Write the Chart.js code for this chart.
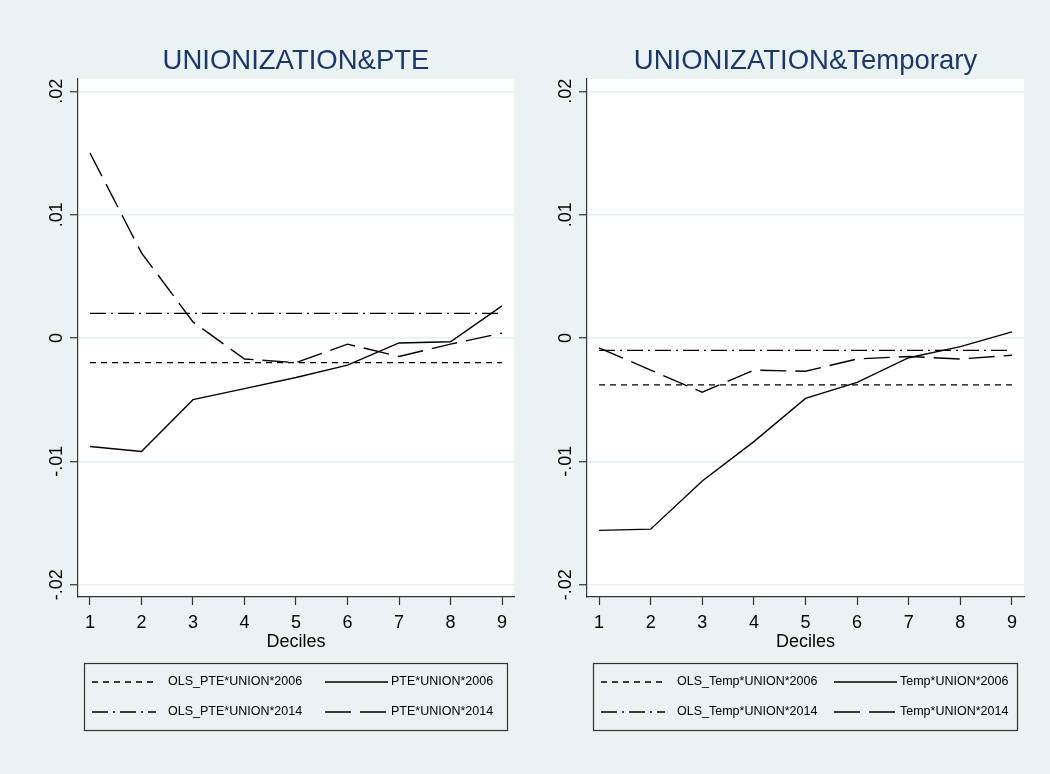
<!DOCTYPE html>
<html>
<head>
<meta charset="utf-8">
<script src="https://cdn.jsdelivr.net/npm/chart.js@4.4.1/dist/chart.umd.min.js"></script>
<style>
  html, body { margin: 0; padding: 0; background: #eaf2f3; }
  #wrap { position: relative; width: 1050px; height: 774px; overflow: hidden; }
  .panel { position: absolute; top: 0; width: 525px; height: 774px; }
</style>
</head>
<body>
<div id="wrap">
  <div class="panel" style="left:0"><canvas id="left" width="525" height="774"></canvas></div>
  <div class="panel" style="left:525px"><canvas id="right" width="525" height="774"></canvas></div>
</div>
<script>
// x positions (deciles) and y ticks
const deciles = [1, 2, 3, 4, 5, 6, 7, 8, 9];
const yTicks = [-0.02, -0.01, 0, 0.01, 0.02];
const yTickLabels = ["-.02", "-.01", "0", ".01", ".02"];

// left panel: PTE
const olsPte2006 = [-0.0020, -0.0020, -0.0020, -0.0020, -0.0020, -0.0020, -0.0020, -0.0020, -0.0020];
const pte2006 = [-0.0088, -0.0092, -0.0050, -0.0041, -0.0032, -0.0022, -0.0004, -0.0003, 0.0026];
const olsPte2014 = [0.0020, 0.0020, 0.0020, 0.0020, 0.0020, 0.0020, 0.0020, 0.0020, 0.0020];
const pte2014 = [0.0150, 0.0069, 0.0013, -0.0017, -0.0020, -0.0005, -0.0015, -0.0005, 0.0004];

// right panel: Temporary
const olsTemp2006 = [-0.0038, -0.0038, -0.0038, -0.0038, -0.0038, -0.0038, -0.0038, -0.0038, -0.0038];
const temp2006 = [-0.0156, -0.0155, -0.0116, -0.0084, -0.0049, -0.0036, -0.0016, -0.0007, 0.0005];
const olsTemp2014 = [-0.0010, -0.0010, -0.0010, -0.0010, -0.0010, -0.0010, -0.0010, -0.0010, -0.0010];
const temp2014 = [-0.0008, -0.0026, -0.0044, -0.0026, -0.0027, -0.0017, -0.0015, -0.0017, -0.0014];

const leftNames = ["OLS_PTE*UNION*2006", "PTE*UNION*2006", "OLS_PTE*UNION*2014", "PTE*UNION*2014"];
const rightNames = ["OLS_Temp*UNION*2006", "Temp*UNION*2006", "OLS_Temp*UNION*2014", "Temp*UNION*2014"];

Chart.defaults.font.family = "'Liberation Sans', Arial, sans-serif";
Chart.defaults.color = "#000";

const dashes = [[6, 5], [], [16, 5, 2, 5], [26, 9]];
const axisColor = "#333";

// white plot region
const plotBg = {
  id: "plotBg",
  beforeDraw(chart) {
    const a = chart.chartArea, ctx = chart.ctx;
    ctx.save();
    ctx.fillStyle = "#fff";
    ctx.fillRect(a.left, a.top, a.right - a.left, a.bottom - a.top);
    ctx.restore();
  }
};

// boxed 2-column legend under the axis title
const boxLegend = {
  id: "boxLegend",
  afterDraw(chart) {
    const a = chart.chartArea, ctx = chart.ctx;
    const left = a.left + 6, right = a.right - 7;
    const top = a.bottom + 66, bottom = a.bottom + 133;
    ctx.save();
    ctx.strokeStyle = axisColor;
    ctx.lineWidth = 1.2;
    ctx.strokeRect(Math.round(left) + 0.5, Math.round(top) + 0.5, Math.round(right - left), Math.round(bottom - top));
    ctx.font = "12.5px 'Liberation Sans', Arial, sans-serif";
    ctx.textBaseline = "middle";
    ctx.fillStyle = "#000";
    const rows = [a.bottom + 85, a.bottom + 115];
    const cols = [{k0: 8, k1: 72, t: 84}, {k0: 241, k1: 304, t: 307}];
    chart.data.datasets.forEach((ds, i) => {
      const y = rows[Math.floor(i / 2)];
      const c = cols[i % 2];
      ctx.strokeStyle = "#000";
      ctx.lineWidth = 1.4;
      ctx.setLineDash(ds.borderDash);
      ctx.beginPath();
      ctx.moveTo(left + c.k0, y);
      ctx.lineTo(left + c.k1, y);
      ctx.stroke();
      ctx.setLineDash([]);
      ctx.fillText(ds.label, left + c.t, y);
    });
    ctx.restore();
  }
};

function makePanel(id, title, names, series, yWidth, padRight) {
  return new Chart(document.getElementById(id), {
    type: "line",
    plugins: [plotBg, boxLegend],
    data: {
      datasets: series.map((vals, i) => ({
        label: names[i],
        data: deciles.map((d, j) => ({ x: d, y: vals[j] })),
        borderColor: "#000",
        borderWidth: 1.4,
        borderDash: dashes[i],
        pointRadius: 0,
        tension: 0,
        fill: false
      }))
    },
    options: {
      responsive: false,
      animation: false,
      layout: { padding: { left: 0, right: padRight, top: 0, bottom: 121.2 } },
      plugins: {
        legend: { display: false },
        tooltip: { enabled: false },
        title: {
          display: true,
          fullSize: false,
          text: title,
          color: "#1c3768",
          font: { size: 27.5, weight: "normal" },
          padding: { top: 44.6, bottom: 1.4 }
        }
      },
      scales: {
        x: {
          type: "linear",
          min: 0.767,
          max: 9.233,
          afterBuildTicks: s => { s.ticks = deciles.map(v => ({ value: v })); },
          afterFit: s => { s.height = 55.8; },
          grid: { display: true, drawOnChartArea: false, tickLength: 8, tickColor: axisColor, tickWidth: 1.2 },
          border: { color: axisColor, width: 1.2 },
          ticks: { font: { size: 18 }, padding: 7, maxRotation: 0, autoSkip: false, callback: v => String(v) },
          title: { display: true, text: "Deciles", font: { size: 18 }, padding: { top: 0, bottom: 0 } }
        },
        y: {
          type: "linear",
          min: -0.021,
          max: 0.021,
          afterBuildTicks: s => { s.ticks = yTicks.map(v => ({ value: v })); },
          afterFit: s => { s.width = yWidth; },
          grid: { color: "#e8eff0", lineWidth: 1.5, tickLength: 8, tickColor: axisColor, tickWidth: 1.2 },
          border: { color: axisColor, width: 1.2 },
          ticks: {
            font: { size: 18 },
            padding: -3,
            minRotation: 90,
            maxRotation: 90,
            crossAlign: "center",
            autoSkip: false,
            callback: v => yTickLabels[yTicks.indexOf(v)]
          }
        }
      }
    }
  });
}

makePanel("left", "UNIONIZATION&PTE", leftNames, [olsPte2006, pte2006, olsPte2014, pte2014], 78, 11);
makePanel("right", "UNIONIZATION&Temporary", rightNames, [olsTemp2006, temp2006, olsTemp2014, temp2014], 62, 26);
</script>
</body>
</html>
